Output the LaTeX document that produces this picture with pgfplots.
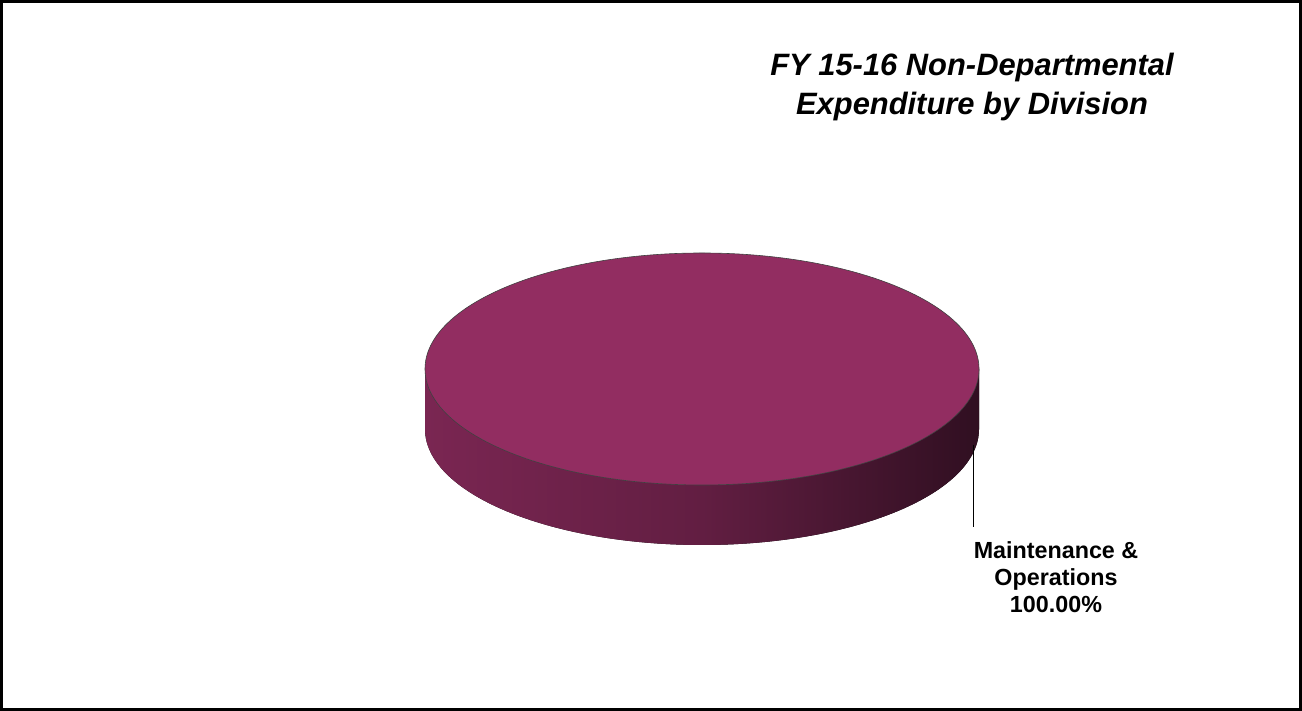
\documentclass[border=0pt]{standalone}
\usepackage{pgfplots}
\pgfplotsset{compat=1.18}
\usepackage{pgfplotstable}
\usepackage{fontspec}
\setmainfont{Liberation Sans}
\definecolor{pietop}{RGB}{146,45,97}
\definecolor{sideL}{RGB}{122,38,82}
\definecolor{sideM}{RGB}{98,30,66}
\definecolor{sideR}{RGB}{48,15,33}
\pgfplotstableread{
label value
MaintOps 100
}\piedata
\begin{document}
\begin{tikzpicture}
\pgfplotstablegetelem{0}{value}\of\piedata
\pgfmathsetmacro{\sliceangle}{\pgfplotsretval/100*360}
\begin{axis}[
  width=1302bp, height=711bp, scale only axis,
  xmin=0, xmax=1302, ymin=0, ymax=711,
  enlargelimits=false, axis lines=none, clip=false,
]
% frame
\draw[line width=3bp, black] (axis cs:1.5,1.5) rectangle (axis cs:1300.5,709.5);
% side of the pie
\fill[left color=sideL, right color=sideR, middle color=sideM]
  (axis cs:425,342) -- (axis cs:425,282)
  arc[start angle=180, end angle=360, x radius=277, y radius=116]
  -- (axis cs:979,342)
  arc[start angle=0, end angle=-180, x radius=277, y radius=116] -- cycle;
% top of the pie (full slice)
\filldraw[fill=pietop, draw=black!75, line width=0.6bp]
  (axis cs:979,342) arc[start angle=0, end angle=\sliceangle, x radius=277, y radius=116] -- cycle;
% leader line
\draw[black, line width=1bp] (axis cs:973,266) -- (axis cs:973,184);
% label
\node[align=center, font=\bfseries\fontsize{23.4}{27}\selectfont, anchor=center]
  at (axis cs:1056,134) {Maintenance \&\\Operations\\100.00\%};
% title
\node[align=center, font=\bfseries\itshape\fontsize{31}{39}\selectfont, anchor=center]
  at (axis cs:972,624) {FY 15-16 Non-Departmental\\Expenditure by Division};
\end{axis}
\end{tikzpicture}
\end{document}
